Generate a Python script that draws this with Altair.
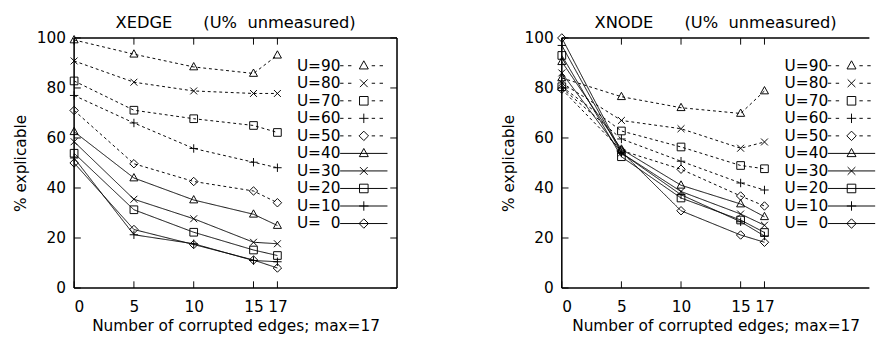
import altair as alt
import pandas as pd

# ---------------- data ----------------
x_vals = [0, 5, 10, 15, 17]
labels = ["U=90", "U=80", "U=70", "U=60", "U=50",
          "U=40", "U=30", "U=20", "U=10", "U=\u20070"]
markers = ["triangle", "x", "square", "plus", "diamond"] * 2
dashed = [True] * 5 + [False] * 5

xedge_u90 = [99.2, 93.5, 88.4, 85.8, 93.1]
xedge_u80 = [90.8, 82.3, 78.8, 77.8, 77.8]
xedge_u70 = [82.8, 71.1, 67.7, 65.0, 62.2]
xedge_u60 = [77.0, 66.0, 55.8, 50.3, 48.1]
xedge_u50 = [71.0, 49.7, 42.6, 38.8, 34.1]
xedge_u40 = [62.5, 44.0, 35.2, 29.5, 25.0]
xedge_u30 = [58.5, 35.5, 27.7, 18.3, 17.7]
xedge_u20 = [53.9, 31.3, 22.3, 15.2, 13.0]
xedge_u10 = [52.0, 21.3, 17.7, 11.0, 10.5]
xedge_u0 = [50.0, 23.4, 17.4, 11.2, 8.0]

xnode_u90 = [84.0, 76.5, 72.1, 69.8, 78.8]
xnode_u80 = [82.0, 67.0, 63.7, 55.9, 58.4]
xnode_u70 = [80.5, 62.8, 56.4, 49.0, 47.7]
xnode_u60 = [80.0, 59.6, 50.7, 42.0, 39.2]
xnode_u50 = [79.5, 55.0, 47.5, 36.8, 32.8]
xnode_u40 = [90.5, 55.5, 41.1, 33.6, 28.5]
xnode_u30 = [86.0, 54.0, 38.6, 29.6, 25.1]
xnode_u20 = [93.0, 52.5, 36.0, 27.2, 22.2]
xnode_u10 = [97.0, 54.0, 37.3, 26.5, 20.8]
xnode_u0 = [100.0, 54.5, 30.9, 21.2, 18.3]

xedge_values = [xedge_u90, xedge_u80, xedge_u70, xedge_u60, xedge_u50,
                xedge_u40, xedge_u30, xedge_u20, xedge_u10, xedge_u0]
xnode_values = [xnode_u90, xnode_u80, xnode_u70, xnode_u60, xnode_u50,
                xnode_u40, xnode_u30, xnode_u20, xnode_u10, xnode_u0]

x_ticks = [0, 5, 10, 15, 17]
y_ticks = [0, 20, 40, 60, 80, 100]

title_left = "XEDGE" + "\u00a0" * 6 + "(U%" + "\u00a0" * 2 + "unmeasured)"
title_right = "XNODE" + "\u00a0" * 6 + "(U%" + "\u00a0" * 2 + "unmeasured)"
x_title = "Number of corrupted edges; max=17"
y_title = "% explicable"

# ---------------- style ----------------
FONT = "DejaVu Sans"
H = 261
W1, W2 = 337, 321
X1_MAX, X2_MAX = 27, 25.8
TICK = 7
FRAME_W = 1.6

# marker outlines in unit coordinates (1 unit = 4 px at size 64)
marker_shapes = {
    "triangle": [([(0, -1.15), (1.05, 0.75), (-1.05, 0.75)], True)],
    "x": [([(-0.9, -0.9), (0.9, 0.9)], False), ([(-0.9, 0.9), (0.9, -0.9)], False)],
    "square": [([(-1, -1), (1, -1), (1, 1), (-1, 1)], True)],
    "plus": [([(-1.1, 0), (1.1, 0)], False), ([(0, -1.1), (0, 1.1)], False)],
    "diamond": [([(0, -1.1), (1.1, 0), (0, 1.1), (-1.1, 0)], True)],
}


def marker_path(name, dx=0.0, k=1.0):
    out = ""
    for pts, closed in marker_shapes[name]:
        out += "M" + "L".join(f"{x * k + dx:.3f},{y * k:.3f}" for x, y in pts)
        if closed:
            out += "Z"
    return out


# legend key sample (units of the legend symbol)
LU = 3.4
S0 = 6.5 / LU
S1 = S0 + 42 / LU
SM = (S0 + S1) / 2
MK = 3.8 / LU


def sample_path(marker, is_dashed):
    if is_dashed:
        segs = []
        x = S0
        while x < S1:
            x2 = min(x + 3 / LU, S1)
            if not (SM - MK * 1.6 < x < SM + MK * 1.6 or SM - MK * 1.6 < x2 < SM + MK * 1.6):
                segs.append(f"M{x:.2f},0L{x2:.2f},0")
            x += 7 / LU
        line = "".join(segs)
    else:
        line = f"M{S0:.2f},0L{S1:.2f},0"
    return line + marker_path(marker, SM, MK)


def make_df(values):
    rows = []
    for lab, vals in zip(labels, values):
        for x, v in zip(x_vals, vals):
            rows.append({"series": lab, "x": x, "y": v})
    return pd.DataFrame(rows)


def panel(values, title, width, xmax, right_frame):
    df = make_df(values)
    xs = alt.Scale(domain=[0, xmax], nice=False, zero=False)
    ys = alt.Scale(domain=[0, 100], nice=False)

    xenc = alt.X("x:Q", scale=xs, axis=alt.Axis(values=x_ticks, title=x_title,
                                                 labelPadding=12, titlePadding=3))
    yenc = alt.Y("y:Q", scale=ys, axis=alt.Axis(values=y_ticks, title=y_title,
                                                 labelPadding=9, titlePadding=8))

    lines = alt.Chart(df).mark_line(color="black", strokeWidth=1).encode(
        x=xenc, y=yenc,
        strokeDash=alt.StrokeDash(
            "series:N",
            scale=alt.Scale(domain=labels,
                            range=[[3, 3] if d else [1, 0] for d in dashed]),
            legend=None),
    )

    pts = alt.Chart(df).mark_point(filled=False, color="black", strokeWidth=1,
                                   size=64, opacity=1).encode(
        x=xenc, y=yenc,
        shape=alt.Shape("series:N",
                        scale=alt.Scale(domain=labels,
                                        range=[marker_path(m) for m in markers]),
                        legend=None),
    )

    # invisible layer that only carries the gnuplot-style key
    key = alt.Chart(df).mark_point(filled=False, color="black", strokeWidth=1,
                                   size=64, opacity=0).encode(
        x=xenc, y=yenc,
        shape=alt.Shape(
            "series:N",
            scale=alt.Scale(domain=labels,
                            range=[sample_path(m, d) for m, d in zip(markers, dashed)]),
            legend=alt.Legend(
                title=None, orient="none",
                legendX=262, legendY=21,
                labelAlign="right", labelOffset=0,
                labelFont=FONT, labelFontSize=16, labelColor="black",
                labelLimit=0,
                symbolSize=64, symbolStrokeColor="black", symbolOpacity=1,
                symbolFillColor="transparent", symbolStrokeWidth=1,
                rowPadding=2.3,
            ),
        ),
    )

    ytdf = pd.DataFrame({"y": y_ticks})
    xtdf = pd.DataFrame({"x": x_ticks})
    one = pd.DataFrame({"k": [0]})

    layers = [lines, pts, key]
    layers.append(alt.Chart(ytdf).mark_rule(color="black", strokeWidth=1).encode(
        y=yenc, x=alt.value(0), x2=alt.value(TICK)))
    layers.append(alt.Chart(xtdf).mark_rule(color="black", strokeWidth=1).encode(
        x=xenc, y=alt.value(H - TICK), y2=alt.value(H)))
    layers.append(alt.Chart(xtdf).mark_rule(color="black", strokeWidth=1).encode(
        x=xenc, y=alt.value(0), y2=alt.value(TICK)))
    # frame
    layers.append(alt.Chart(one).mark_rule(color="black", strokeWidth=FRAME_W).encode(
        x=alt.value(0), y=alt.value(0), y2=alt.value(H)))
    layers.append(alt.Chart(one).mark_rule(color="black", strokeWidth=FRAME_W).encode(
        x=alt.value(0), x2=alt.value(width), y=alt.value(0)))
    layers.append(alt.Chart(one).mark_rule(color="black", strokeWidth=FRAME_W).encode(
        x=alt.value(0), x2=alt.value(width), y=alt.value(H)))
    if right_frame:
        layers.append(alt.Chart(ytdf).mark_rule(color="black", strokeWidth=1).encode(
            y=yenc, x=alt.value(width - TICK), x2=alt.value(width)))
        layers.append(alt.Chart(one).mark_rule(color="black", strokeWidth=FRAME_W).encode(
            x=alt.value(width), y=alt.value(0), y2=alt.value(H)))

    return alt.layer(*layers).properties(
        width=width, height=H,
        title=alt.Title(title, font=FONT, fontSize=17, fontWeight="normal",
                        color="black", anchor="middle", offset=-2),
    ).resolve_scale(shape="independent")


left = panel(xedge_values, title_left, W1, X1_MAX, True)
right = panel(xnode_values, title_right, W2, X2_MAX, False)

chart = alt.hconcat(left, right, spacing=107).resolve_scale(
    x="independent", y="independent", shape="independent",
    strokeDash="independent").resolve_legend(shape="independent").configure_view(
    stroke=None).configure_axis(
    labelFont=FONT, labelFontSize=16, labelColor="black",
    titleFont=FONT, titleFontSize=16, titleFontWeight="normal", titleColor="black",
    ticks=False, tickSize=0, domain=False, grid=False).properties(
    padding={"left": 5, "top": 0, "right": 0, "bottom": 0})

chart.save("out.html", embed_options={"renderer": "svg", "actions": False})
